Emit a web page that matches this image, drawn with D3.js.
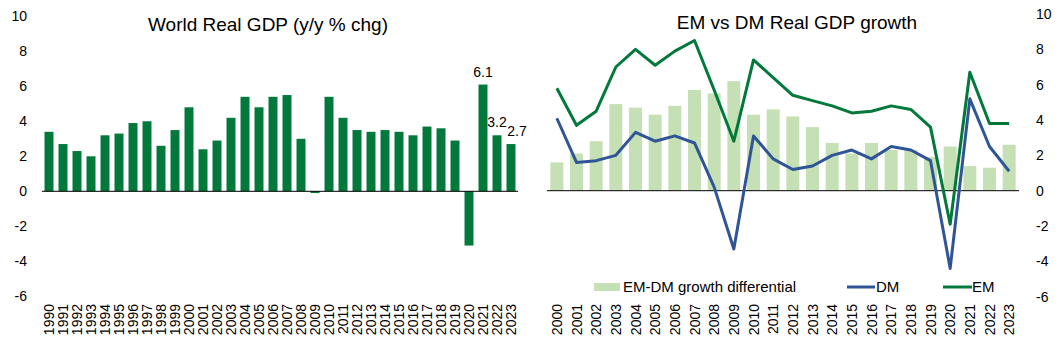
<!DOCTYPE html>
<html lang="en">
<head>
    <meta charset="UTF-8">
    <title>World Real GDP</title>
    <style type="text/css">
        body { margin:0; background:#fff }
        svg { display:block; font-family:"Liberation Sans", Arial, sans-serif }
        .tick-label { font-size:14px; fill:#000 }
        .year-label { font-size:14px; fill:#000 }
        .title { font-size:19px; fill:#000 }
        .legend { font-size:15px; fill:#000 }
    </style>
</head>
<body>
<script src="https://cdn.jsdelivr.net/npm/d3@7"></script>
<script>
    // left chart: world real gdp, y/y % chg
    var worldYears = d3.range(1990, 2024);
    var worldGdp = [3.4, 2.7, 2.3, 2.0, 3.2, 3.3, 3.9, 4.0, 2.6, 3.5,
                    4.8, 2.4, 2.9, 4.2, 5.4, 4.8, 5.4, 5.5, 3.0, -0.1,
                    5.4, 4.2, 3.5, 3.4, 3.5, 3.4, 3.2, 3.7, 3.6, 2.9,
                    -3.1, 6.1, 3.2, 2.7];
    var labelledYears = [2021, 2022, 2023];

    // right chart: em vs dm
    var emdmYears = d3.range(2000, 2024);
    var emGrowth = [5.8, 3.7, 4.5, 7.0, 8.0, 7.1, 7.9, 8.5, 5.7, 2.8,
                    7.4, 6.4, 5.4, 5.1, 4.8, 4.4, 4.5, 4.8, 4.6, 3.6,
                    -1.9, 6.7, 3.8, 3.8];
    var dmGrowth = [4.1, 1.6, 1.7, 2.0, 3.3, 2.8, 3.1, 2.7, 0.2, -3.3,
                    3.1, 1.8, 1.2, 1.4, 2.0, 2.3, 1.8, 2.5, 2.3, 1.7,
                    -4.4, 5.2, 2.5, 1.1];
    var differential = [1.6, 2.1, 2.8, 4.9, 4.7, 4.3, 4.8, 5.7, 5.5, 6.2,
                        4.3, 4.6, 4.2, 3.6, 2.7, 2.1, 2.7, 2.3, 2.3, 1.9,
                        2.5, 1.4, 1.3, 2.6];

    var yTicks = [-6, -4, -2, 0, 2, 4, 6, 8, 10];

    var width = 1061,
        height = 346;

    var darkGreen = '#00793a',
        lightGreen = '#c5e0b4',
        blue = '#2f5597';

    var svg = d3.select('body').append('svg')
                .attr('width', width)
                .attr('height', height);

    // ---------- left chart ----------
    var xLeft = d3.scaleBand().domain(worldYears).range([42, 518])
                  .paddingInner(0.36).paddingOuter(0.18);
    var yLeft = d3.scaleLinear().domain([-6, 10]).range([296.3, 16.3]);

    svg.append('g')
       .selectAll('rect')
       .data(worldGdp)
       .enter()
       .append('rect')
       .attr('x', function(d, i){ return xLeft(worldYears[i]); })
       .attr('width', xLeft.bandwidth())
       .attr('y', function(d){ return yLeft(Math.max(0, d)); })
       .attr('height', function(d){ return Math.abs(yLeft(d) - yLeft(0)); })
       .attr('fill', darkGreen);

    svg.append('line')
       .attr('x1', 42).attr('x2', 518)
       .attr('y1', yLeft(0)).attr('y2', yLeft(0))
       .attr('stroke', '#000').attr('stroke-width', 1);

    svg.append('g')
       .selectAll('text')
       .data(yTicks)
       .enter()
       .append('text')
       .attr('class', 'tick-label')
       .attr('x', 27)
       .attr('y', function(d){ return yLeft(d); })
       .attr('dy', '0.35em')
       .attr('text-anchor', 'end')
       .text(function(d){ return d; });

    svg.append('g')
       .selectAll('text')
       .data(worldYears)
       .enter()
       .append('text')
       .attr('class', 'year-label')
       .attr('text-anchor', 'end')
       .attr('transform', function(d){
           return 'translate(' + (xLeft(d) + xLeft.bandwidth() / 2 + 5) + ',304) rotate(-90)';
       })
       .text(function(d){ return d; });

    svg.append('g')
       .selectAll('text')
       .data(labelledYears)
       .enter()
       .append('text')
       .attr('class', 'tick-label')
       .attr('text-anchor', 'middle')
       .attr('x', function(d, i){ return xLeft(d) + xLeft.bandwidth() / 2 + (i == 2 ? 6 : 0); })
       .attr('y', function(d){ return yLeft(worldGdp[worldYears.indexOf(d)]) - 8; })
       .text(function(d){ return worldGdp[worldYears.indexOf(d)].toFixed(1); });

    svg.append('text')
       .attr('class', 'title')
       .attr('x', 268)
       .attr('y', 31)
       .attr('text-anchor', 'middle')
       .text('World Real GDP (y/y % chg)');

    // ---------- right chart ----------
    var xRight = d3.scaleBand().domain(emdmYears).range([547, 1019])
                   .paddingInner(0.34).paddingOuter(0.17);
    var yRight = d3.scaleLinear().domain([-6, 10]).range([296.7, 14]);

    svg.append('g')
       .selectAll('rect')
       .data(differential)
       .enter()
       .append('rect')
       .attr('x', function(d, i){ return xRight(emdmYears[i]); })
       .attr('width', xRight.bandwidth())
       .attr('y', function(d){ return yRight(Math.max(0, d)); })
       .attr('height', function(d){ return Math.abs(yRight(d) - yRight(0)); })
       .attr('fill', lightGreen);

    svg.append('line')
       .attr('x1', 547).attr('x2', 1019)
       .attr('y1', yRight(0)).attr('y2', yRight(0))
       .attr('stroke', '#000').attr('stroke-width', 1);

    var line = d3.line()
                 .x(function(d, i){ return xRight(emdmYears[i]) + xRight.bandwidth() / 2; })
                 .y(function(d){ return yRight(d); })
                 .curve(d3.curveLinear);

    svg.append('path')
       .attr('d', line(dmGrowth))
       .attr('fill', 'none')
       .attr('stroke', blue)
       .attr('stroke-width', 3)
       .attr('stroke-linejoin', 'round');

    svg.append('path')
       .attr('d', line(emGrowth))
       .attr('fill', 'none')
       .attr('stroke', darkGreen)
       .attr('stroke-width', 3)
       .attr('stroke-linejoin', 'round');

    svg.append('g')
       .selectAll('text')
       .data(yTicks)
       .enter()
       .append('text')
       .attr('class', 'tick-label')
       .attr('x', 1036)
       .attr('y', function(d){ return yRight(d); })
       .attr('dy', '0.35em')
       .text(function(d){ return d; });

    svg.append('g')
       .selectAll('text')
       .data(emdmYears)
       .enter()
       .append('text')
       .attr('class', 'year-label')
       .attr('text-anchor', 'end')
       .attr('transform', function(d){
           return 'translate(' + (xRight(d) + xRight.bandwidth() / 2 + 5) + ',304) rotate(-90)';
       })
       .text(function(d){ return d; });

    svg.append('text')
       .attr('class', 'title')
       .attr('x', 797)
       .attr('y', 29)
       .attr('text-anchor', 'middle')
       .text('EM vs DM Real GDP growth');

    // legend
    var legend = svg.append('g').attr('class', 'legend');
    legend.append('rect')
          .attr('x', 594).attr('y', 283)
          .attr('width', 26).attr('height', 8)
          .attr('fill', lightGreen);
    legend.append('text')
          .attr('x', 623).attr('y', 287).attr('dy', '0.35em')
          .text('EM-DM growth differential');

    legend.append('line')
          .attr('x1', 847).attr('x2', 875)
          .attr('y1', 287).attr('y2', 287)
          .attr('stroke', blue).attr('stroke-width', 3);
    legend.append('text')
          .attr('x', 876).attr('y', 287).attr('dy', '0.35em')
          .text('DM');

    legend.append('line')
          .attr('x1', 943).attr('x2', 972)
          .attr('y1', 287).attr('y2', 287)
          .attr('stroke', darkGreen).attr('stroke-width', 3);
    legend.append('text')
          .attr('x', 972).attr('y', 287).attr('dy', '0.35em')
          .text('EM');
</script>
</body>
</html>
